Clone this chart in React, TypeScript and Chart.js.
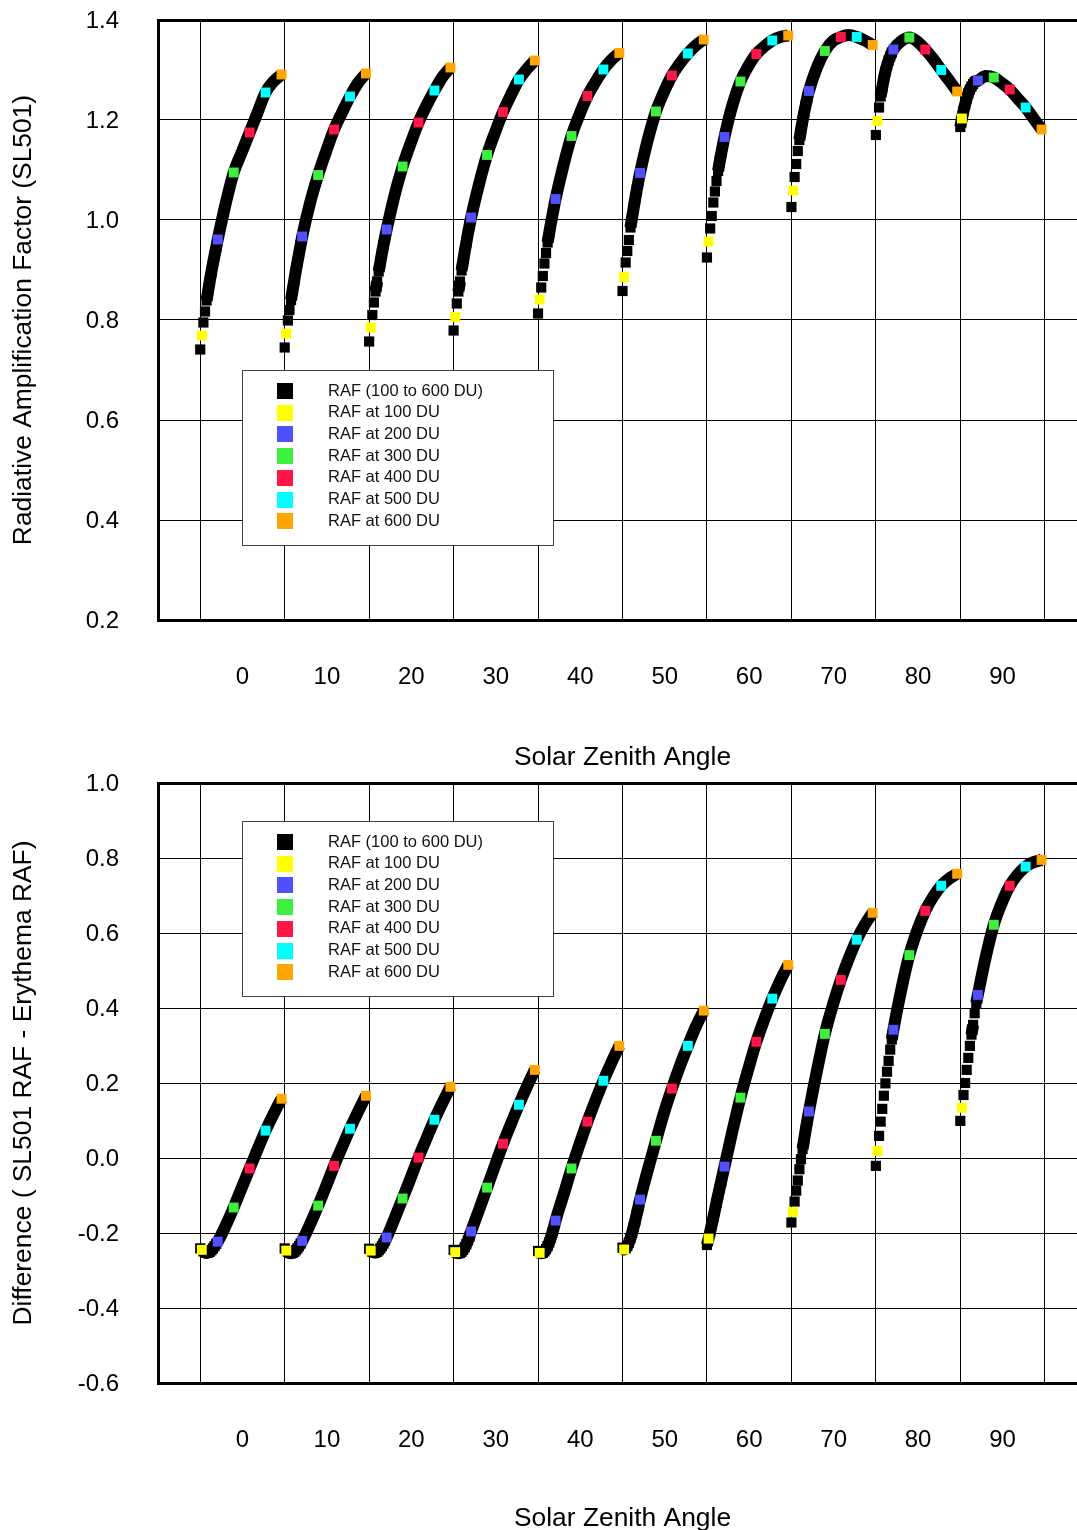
import React, { useEffect, useRef } from 'react';
import { Chart, registerables } from 'chart.js';

Chart.register(...registerables);

const FONT = "'Liberation Sans', Arial, Helvetica, sans-serif";

// Solar zenith angles (one group per angle) and ozone columns (DU)
const SZA = [0, 10, 20, 30, 40, 50, 60, 70, 80, 90];
const X_TICKS = [0, 10, 20, 30, 40, 50, 60, 70, 80, 90];
const MARKER_DU = [100, 200, 300, 400, 500, 600];
const BLACK_LOW_DU = [90, 110, 120, 130, 140, 150, 160, 170, 180, 190];
const BLACK_MID_DU = [250, 350, 450, 550];

const LEGEND_LABELS = [
  'RAF (100 to 600 DU)',
  'RAF at 100 DU',
  'RAF at 200 DU',
  'RAF at 300 DU',
  'RAF at 400 DU',
  'RAF at 500 DU',
  'RAF at 600 DU',
];
const MARKER_COLORS = ['#ffff00', '#5050ff', '#3ef03e', '#ff1548', '#00ffff', '#ffa500'];

// ---- Top panel: Radiative Amplification Factor (SL501) ----
const TOP_100 = [0.769, 0.773, 0.785, 0.806, 0.841, 0.886, 0.957, 1.059, 1.198, 1.203];
const TOP_200 = [0.961, 0.967, 0.981, 1.005, 1.042, 1.094, 1.166, 1.258, 1.341, 1.279];
const TOP_300 = [1.095, 1.090, 1.107, 1.130, 1.168, 1.217, 1.277, 1.338, 1.365, 1.285];
const TOP_400 = [1.175, 1.181, 1.195, 1.216, 1.248, 1.289, 1.332, 1.366, 1.341, 1.261];
const TOP_500 = [1.255, 1.247, 1.259, 1.281, 1.301, 1.333, 1.359, 1.366, 1.300, 1.225];
const TOP_600 = [1.291, 1.293, 1.305, 1.319, 1.334, 1.361, 1.369, 1.350, 1.257, 1.181];

// black curve, rows = SZA, cols = BLACK_LOW_DU
const TOP_BLACK_LOW = [
  [0.741, 0.795, 0.817, 0.839, 0.859, 0.878, 0.896, 0.913, 0.929, 0.945],
  [0.745, 0.799, 0.820, 0.840, 0.860, 0.879, 0.898, 0.916, 0.933, 0.950],
  [0.757, 0.810, 0.835, 0.857, 0.877, 0.897, 0.915, 0.933, 0.950, 0.966],
  [0.779, 0.833, 0.857, 0.877, 0.899, 0.918, 0.937, 0.955, 0.973, 0.989],
  [0.813, 0.865, 0.888, 0.913, 0.934, 0.955, 0.974, 0.992, 1.009, 1.026],
  [0.858, 0.915, 0.938, 0.960, 0.985, 1.005, 1.024, 1.043, 1.061, 1.078],
  [0.925, 0.983, 1.008, 1.035, 1.057, 1.078, 1.098, 1.117, 1.134, 1.150],
  [1.026, 1.086, 1.112, 1.138, 1.160, 1.180, 1.198, 1.215, 1.230, 1.245],
  [1.170, 1.225, 1.247, 1.265, 1.282, 1.297, 1.309, 1.319, 1.327, 1.335],
  [1.186, 1.218, 1.231, 1.243, 1.253, 1.261, 1.267, 1.272, 1.276, 1.278],
];
// black curve, rows = SZA, cols = BLACK_MID_DU
const TOP_BLACK_MID = [
  [1.033, 1.135, 1.215, 1.277],
  [1.035, 1.137, 1.215, 1.274],
  [1.050, 1.153, 1.229, 1.286],
  [1.072, 1.175, 1.250, 1.302],
  [1.110, 1.211, 1.276, 1.320],
  [1.162, 1.256, 1.313, 1.349],
  [1.230, 1.308, 1.347, 1.366],
  [1.305, 1.358, 1.370, 1.359],
  [1.358, 1.357, 1.322, 1.279],
  [1.288, 1.274, 1.243, 1.203],
];

// ---- Bottom panel: Difference (SL501 RAF - Erythema RAF) ----
const BOT_100 = [-0.245, -0.247, -0.247, -0.251, -0.253, -0.244, -0.215, -0.144, 0.019, 0.134];
const BOT_200 = [-0.223, -0.221, -0.212, -0.196, -0.167, -0.111, -0.023, 0.124, 0.342, 0.435];
const BOT_300 = [-0.132, -0.127, -0.108, -0.079, -0.028, 0.046, 0.161, 0.331, 0.541, 0.622];
const BOT_400 = [-0.028, -0.021, 0.001, 0.038, 0.097, 0.185, 0.310, 0.475, 0.659, 0.726];
const BOT_500 = [0.073, 0.078, 0.102, 0.142, 0.206, 0.299, 0.425, 0.582, 0.726, 0.777];
const BOT_600 = [0.158, 0.166, 0.190, 0.235, 0.299, 0.393, 0.515, 0.654, 0.758, 0.795];

const BOT_BLACK_LOW = [
  [-0.241, -0.249, -0.252, -0.253, -0.252, -0.250, -0.246, -0.241, -0.235, -0.229],
  [-0.241, -0.250, -0.253, -0.254, -0.253, -0.250, -0.246, -0.241, -0.235, -0.228],
  [-0.242, -0.250, -0.252, -0.252, -0.250, -0.246, -0.241, -0.235, -0.228, -0.220],
  [-0.245, -0.253, -0.254, -0.253, -0.250, -0.245, -0.238, -0.230, -0.220, -0.209],
  [-0.248, -0.254, -0.253, -0.249, -0.243, -0.235, -0.225, -0.213, -0.199, -0.184],
  [-0.239, -0.241, -0.235, -0.226, -0.214, -0.200, -0.184, -0.167, -0.149, -0.130],
  [-0.232, -0.197, -0.178, -0.159, -0.139, -0.119, -0.099, -0.080, -0.061, -0.042],
  [-0.172, -0.116, -0.087, -0.060, -0.030, -0.003, 0.024, 0.050, 0.076, 0.100],
  [-0.021, 0.059, 0.097, 0.131, 0.166, 0.199, 0.230, 0.259, 0.289, 0.316],
  [0.099, 0.168, 0.200, 0.235, 0.267, 0.299, 0.329, 0.355, 0.386, 0.413],
];
const BOT_BLACK_MID = [
  [-0.180, -0.080, 0.023, 0.117],
  [-0.176, -0.075, 0.029, 0.123],
  [-0.161, -0.054, 0.052, 0.147],
  [-0.138, -0.020, 0.091, 0.190],
  [-0.098, 0.036, 0.153, 0.254],
  [-0.030, 0.120, 0.245, 0.350],
  [0.072, 0.238, 0.370, 0.473],
  [0.232, 0.408, 0.532, 0.622],
  [0.450, 0.607, 0.697, 0.745],
  [0.537, 0.680, 0.756, 0.789],
];

// position of an ozone column inside its SZA group (group spans sza-5 .. sza+5)
function xFor(sza: number, du: number) {
  return sza - 5 + (du - 90) / 53;
}

const SQUARE_SIDE = 10; // neighbouring 10-DU squares merge into a band when closer than this (px)

function buildDatasets(colored: number[][], blackLow: number[][], blackMid: number[][]) {
  const ds: any[] = [];
  MARKER_DU.forEach((du, k) => {
    ds.push({
      label: LEGEND_LABELS[k + 1],
      data: SZA.map((s, i) => ({ x: xFor(s, du), y: colored[k][i] })),
      showLine: false,
      pointStyle: 'rect',
      pointRadius: 7,
      pointBorderWidth: 0,
      backgroundColor: MARKER_COLORS[k],
      borderColor: MARKER_COLORS[k],
      order: 0,
    });
  });
  ds.push({
    label: LEGEND_LABELS[0],
    data: SZA.flatMap((s, i) => BLACK_LOW_DU.map((du, j) => ({ x: xFor(s, du), y: blackLow[i][j] }))),
    showLine: false,
    pointStyle: 'rect',
    pointRadius: 7.2,
    pointBorderWidth: 0,
    backgroundColor: '#000',
    borderColor: '#000',
    order: 1,
  });
  SZA.forEach((s, i) => {
    const pts: number[][] = [];
    pts.push([BLACK_LOW_DU[0], blackLow[i][0]]);
    pts.push([MARKER_DU[0], colored[0][i]]);
    for (let j = 1; j < BLACK_LOW_DU.length; j++) pts.push([BLACK_LOW_DU[j], blackLow[i][j]]);
    for (let k = 1; k < MARKER_DU.length; k++) {
      pts.push([MARKER_DU[k], colored[k][i]]);
      if (k - 1 < BLACK_MID_DU.length) pts.push([BLACK_MID_DU[k - 1], blackMid[i][k - 1]]);
    }
    pts.sort((a, b) => a[0] - b[0]);
    const duList = pts.map((p) => p[0]);
    ds.push({
      label: '',
      data: pts.map(([du, v]) => ({ x: xFor(s, du), y: v })),
      showLine: true,
      borderColor: '#000',
      backgroundColor: '#000',
      borderWidth: 12,
      pointRadius: 0,
      cubicInterpolationMode: 'monotone',
      segment: {
        borderColor: (c: any) => {
          const step = duList[c.p1DataIndex] - duList[c.p0DataIndex];
          return step <= 10 && Math.abs(c.p1.y - c.p0.y) > SQUARE_SIDE ? 'rgba(0,0,0,0)' : '#000';
        },
      },
      order: 2,
    });
  });
  return ds;
}

const boxLegend = {
  id: 'boxLegend',
  afterDatasetsDraw(chart: any, _args: any, opts: any) {
    const { ctx } = chart;
    const { x, y, w, h } = opts;
    ctx.save();
    ctx.fillStyle = '#ffffff';
    ctx.fillRect(x, y, w, h);
    ctx.strokeStyle = '#404040';
    ctx.lineWidth = 1;
    ctx.strokeRect(x + 0.5, y + 0.5, w, h);
    ctx.font = `16.5px ${FONT}`;
    ctx.textBaseline = 'middle';
    ctx.textAlign = 'left';
    const colors = ['#000000', ...MARKER_COLORS];
    LEGEND_LABELS.forEach((label, i) => {
      const cy = y + 21 + i * 21.7;
      ctx.fillStyle = colors[i];
      ctx.fillRect(x + 35, Math.round(cy - 8), 16, 16);
      ctx.fillStyle = '#111';
      ctx.fillText(label, x + 86, cy);
    });
    ctx.restore();
  },
};

type PanelProps = {
  height: number;
  padTop: number;
  yMin: number;
  yMax: number;
  yTitle: string;
  colored: number[][];
  blackLow: number[][];
  blackMid: number[][];
  legendY: number;
  titleBottomPad: number;
};

function Panel(p: PanelProps) {
  const ref = useRef<HTMLCanvasElement | null>(null);
  useEffect(() => {
    if (!ref.current) return;
    const plotBottom = p.padTop + 600;
    const chart = new Chart(ref.current, {
      type: 'scatter',
      data: { datasets: buildDatasets(p.colored, p.blackLow, p.blackMid) },
      options: {
        responsive: false,
        animation: false,
        events: [],
        layout: { padding: { left: 1, top: p.padTop, right: 13, bottom: 0 } },
        plugins: {
          legend: { display: false },
          tooltip: { enabled: false },
          boxLegend: { x: 242, y: p.legendY, w: 311, h: 175 },
        } as any,
        scales: {
          x: {
            type: 'linear',
            position: 'bottom',
            min: -10,
            max: 100,
            afterBuildTicks: (s: any) => {
              s.ticks = X_TICKS.map((v) => ({ value: v }));
            },
            afterFit: (s: any) => {
              s.height = p.height - plotBottom;
              s.paddingLeft = 0;
              s.paddingRight = 0;
            },
            grid: { offset: true, color: '#000', lineWidth: 1, drawTicks: false },
            border: { color: '#000', width: 3 },
            ticks: {
              padding: 43,
              autoSkip: false,
              maxRotation: 0,
              color: '#000',
              font: { family: FONT, size: 24 },
              callback: (v: any) => String(v),
            },
            title: {
              display: true,
              text: 'Solar Zenith Angle',
              color: '#000',
              font: { family: FONT, size: 26.4, lineHeight: 1 },
              padding: { top: 0, bottom: p.titleBottomPad },
            },
          },
          y: {
            type: 'linear',
            min: p.yMin,
            max: p.yMax,
            afterFit: (s: any) => {
              s.width = 157;
              s.paddingTop = 0;
              s.paddingBottom = 0;
            },
            grid: {
              color: '#000',
              drawTicks: false,
              lineWidth: (c: any) => (c.tick && Math.abs(c.tick.value - p.yMax) < 1e-6 ? 3 : 1),
            },
            border: { color: '#000', width: 3 },
            ticks: {
              stepSize: 0.2,
              padding: 39,
              labelOffset: 1.5,
              color: '#000',
              font: { family: FONT, size: 24 },
              callback: (v: any) => (Math.round(Number(v) * 10) / 10).toFixed(1),
            },
            title: {
              display: true,
              text: p.yTitle,
              color: '#000',
              font: { family: FONT, size: 26.4, lineHeight: 1 },
              padding: { top: 10, bottom: 0 },
            },
          },
        },
      },
      plugins: [boxLegend],
    } as any);
    return () => chart.destroy();
  }, []);
  return (
    <canvas
      ref={ref}
      width={1100}
      height={p.height}
      style={{ display: 'block', width: 1100, height: p.height }}
    />
  );
}

export default function App() {
  return (
    <div
      style={{
        position: 'absolute',
        left: 0,
        top: 0,
        width: 1077,
        height: 1530,
        overflow: 'hidden',
        background: '#fff',
      }}
    >
      <Panel
        height={770}
        padTop={20}
        yMin={0.2}
        yMax={1.4}
        yTitle="Radiative Amplification Factor (SL501)"
        colored={[TOP_100, TOP_200, TOP_300, TOP_400, TOP_500, TOP_600]}
        blackLow={TOP_BLACK_LOW}
        blackMid={TOP_BLACK_MID}
        legendY={370}
        titleBottomPad={-1}
      />
      <Panel
        height={760}
        padTop={13}
        yMin={-0.6}
        yMax={1.0}
        yTitle="Difference ( SL501 RAF - Erythema RAF)"
        colored={[BOT_100, BOT_200, BOT_300, BOT_400, BOT_500, BOT_600]}
        blackLow={BOT_BLACK_LOW}
        blackMid={BOT_BLACK_MID}
        legendY={51}
        titleBottomPad={-2}
      />
    </div>
  );
}
